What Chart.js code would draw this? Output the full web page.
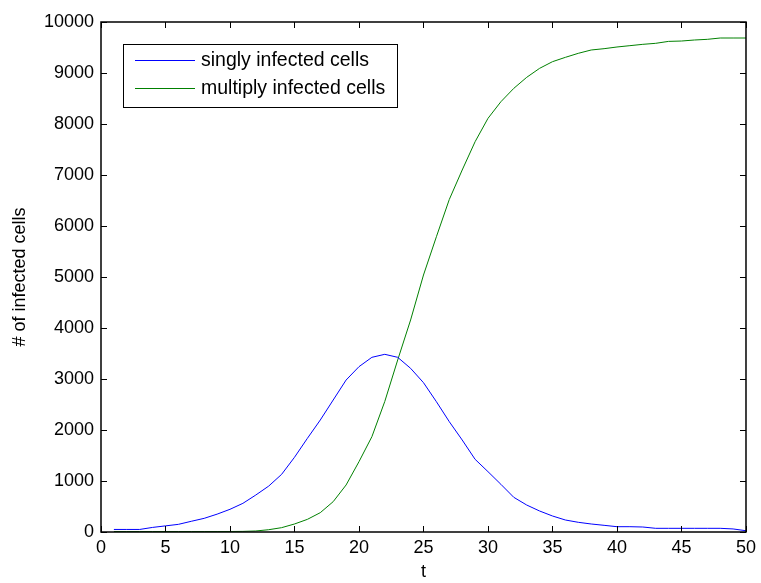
<!DOCTYPE html>
<html>
<head>
<meta charset="utf-8">
<script src="https://cdn.jsdelivr.net/npm/chart.js@4.4.1/dist/chart.umd.min.js"></script>
<style>
  html, body { margin: 0; padding: 0; background: #fff; }
  #wrap { width: 761px; height: 583px; }
</style>
</head>
<body>
<div id="wrap"><canvas id="myChart" width="761" height="583"></canvas></div>
<script>
var tValues = [1, 2, 3, 4, 5, 6, 7, 8, 9, 10,
    11, 12, 13, 14, 15, 16, 17, 18, 19, 20,
    21, 22, 23, 24, 25, 26, 27, 28, 29, 30,
    31, 32, 33, 34, 35, 36, 37, 38, 39, 40,
    41, 42, 43, 44, 45, 46, 47, 48, 49, 50];
var singlyInfected = [50, 50, 50, 90, 120, 150, 210, 268, 350, 445,
    562, 725, 900, 1130, 1465, 1837, 2196, 2588, 2980, 3242,
    3425, 3484, 3425, 3209, 2928, 2555, 2163, 1804, 1425, 1183,
    935, 680, 529, 412, 314, 235, 190, 157, 131, 104,
    104, 98, 72, 72, 72, 72, 72, 72, 60, 25];
var multiplyInfected = [10, 10, 10, 10, 10, 10, 10, 10, 10, 10,
    12, 20, 45, 85, 157, 248, 379, 595, 922, 1379,
    1869, 2560, 3373, 4157, 5039, 5790, 6520, 7098, 7653, 8111,
    8437, 8699, 8915, 9091, 9222, 9307, 9386, 9451, 9477, 9510,
    9536, 9562, 9582, 9620, 9627, 9647, 9660, 9686, 9686, 9686];
var seriesLabels = ["singly infected cells", "multiply infected cells"];
var seriesColors = ['#0000ff', '#008000'];
var xTicks = [0, 5, 10, 15, 20, 25, 30, 35, 40, 45, 50];
var yTicks = [0, 1000, 2000, 3000, 4000, 5000, 6000, 7000, 8000, 9000, 10000];

var fontFamily = '"Liberation Sans", Arial, sans-serif';

function toPoints(ys) {
    return ys.map(function (y, i) { return { x: tValues[i], y: y }; });
}

// box around the axes with inward ticks, matlab style + boxed legend
var boxPlugin = {
    id: 'boxPlugin',
    afterDraw: function (chart) {
        var ctx = chart.ctx;
        var a = chart.chartArea;
        var xs = chart.scales.x, ys = chart.scales.y;
        var len = 6;
        ctx.save();
        ctx.strokeStyle = '#000';
        ctx.lineWidth = 1;
        ctx.beginPath();
        xTicks.forEach(function (v) {
            var px = Math.round(xs.getPixelForValue(v)) + 0.5;
            ctx.moveTo(px, a.bottom); ctx.lineTo(px, a.bottom - len);
            ctx.moveTo(px, a.top); ctx.lineTo(px, a.top + len);
        });
        yTicks.forEach(function (v) {
            var py = Math.round(ys.getPixelForValue(v)) + 0.5;
            ctx.moveTo(a.left, py); ctx.lineTo(a.left + len, py);
            ctx.moveTo(a.right, py); ctx.lineTo(a.right - len, py);
        });
        ctx.stroke();
        ctx.lineWidth = 1.5;
        ctx.strokeRect(a.left, a.top, a.right - a.left, a.bottom - a.top);

        // legend
        var lx = 123, ly = 44, lw = 274, lh = 63;
        ctx.fillStyle = '#fff';
        ctx.fillRect(lx, ly, lw, lh);
        ctx.lineWidth = 1;
        ctx.strokeStyle = '#000';
        ctx.strokeRect(lx + 0.5, ly + 0.5, lw, lh);
        ctx.font = '19.5px ' + fontFamily;
        ctx.textBaseline = 'middle';
        ctx.textAlign = 'left';
        seriesLabels.forEach(function (lbl, i) {
            var yy = 60 + i * 28;
            ctx.strokeStyle = seriesColors[i];
            ctx.lineWidth = 1;
            ctx.beginPath();
            ctx.moveTo(135, yy + 0.5); ctx.lineTo(195, yy + 0.5);
            ctx.stroke();
            ctx.fillStyle = '#000';
            ctx.fillText(lbl, 201, yy + 1);
        });
        ctx.restore();
    }
};

new Chart(document.getElementById('myChart'), {
    type: 'line',
    data: {
        datasets: [
            {
                label: seriesLabels[0],
                data: toPoints(singlyInfected),
                borderColor: seriesColors[0],
                borderWidth: 1,
                pointRadius: 0,
                fill: false,
                tension: 0
            },
            {
                label: seriesLabels[1],
                data: toPoints(multiplyInfected),
                borderColor: seriesColors[1],
                borderWidth: 1,
                pointRadius: 0,
                fill: false,
                tension: 0
            }
        ]
    },
    options: {
        responsive: false,
        animation: false,
        layout: { padding: { top: 22, right: 12, left: 0, bottom: 0 } },
        plugins: {
            legend: { display: false },
            tooltip: { enabled: false }
        },
        scales: {
            x: {
                type: 'linear',
                min: 0,
                max: 50,
                afterFit: function (s) { s.height = 51; },
                afterBuildTicks: function (s) { s.ticks = xTicks.map(function (v) { return { value: v }; }); },
                grid: { display: false, drawTicks: false },
                border: { display: false },
                ticks: {
                    color: '#000',
                    padding: 5,
                    maxRotation: 0,
                    callback: function (v) { return String(v); },
                    font: { family: fontFamily, size: 18 }
                },
                title: {
                    display: true,
                    text: 't',
                    color: '#000',
                    padding: { top: 0, bottom: 0 },
                    font: { family: fontFamily, size: 18 }
                }
            },
            y: {
                type: 'linear',
                min: 0,
                max: 10000,
                afterFit: function (s) { s.width = 101; },
                afterBuildTicks: function (s) { s.ticks = yTicks.map(function (v) { return { value: v }; }); },
                grid: { display: false, drawTicks: false },
                border: { display: false },
                ticks: {
                    color: '#000',
                    padding: 7,
                    callback: function (v) { return String(v); },
                    font: { family: fontFamily, size: 18 }
                },
                title: {
                    display: true,
                    text: '# of infected cells',
                    color: '#000',
                    padding: { top: 9, bottom: 0 },
                    font: { family: fontFamily, size: 18 }
                }
            }
        }
    },
    plugins: [boxPlugin]
});
</script>
</body>
</html>
